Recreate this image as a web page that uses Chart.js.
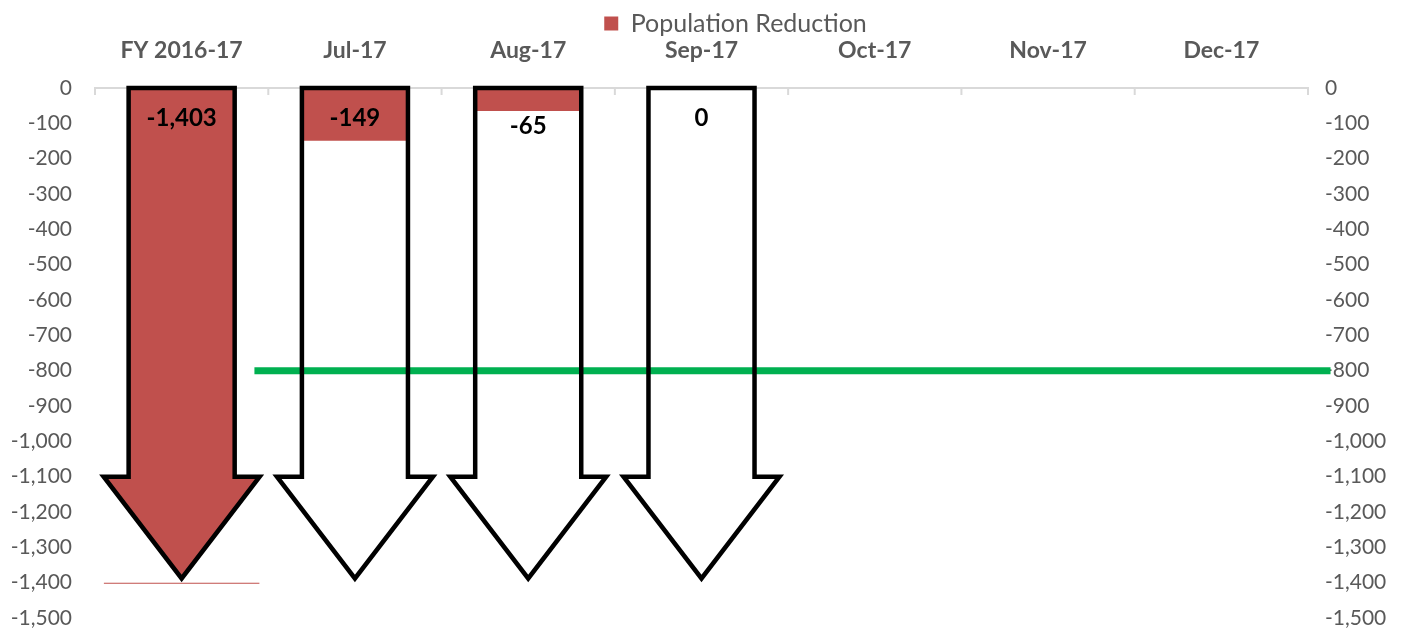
<!DOCTYPE html>
<html><head><meta charset="utf-8">
<script src="https://cdn.jsdelivr.net/npm/chart.js@4"></script>
<style>html,body{margin:0;padding:0;background:#fff}#wrap{width:1405px;height:628px;position:relative}</style>
</head><body><div id="wrap"><canvas id="c"></canvas></div>
<script>
// ---- data ----
const categories = ['FY 2016-17', 'Jul-17', 'Aug-17', 'Sep-17', 'Oct-17', 'Nov-17', 'Dec-17'];
const populationReduction = [-1403, -149, -65, 0, null, null, null];
const targetValue = -800;
const targetStart = 0.42;   // in category-index units
const targetEnd = 6.63;
const yMin = -1500, yMax = 0, yStep = 100;
const arrowHeadValue = -1100;
const arrowTipValue = -1388;

const RED = '#c0504d', GREEN = '#00b050', GREY = '#595959';
const FONT = 'Lato, "Open Sans", sans-serif';

function arrowPath(ctx, el, yScale) {
  const cx = el.x, hw = el.width / 2, sw = hw * 0.68;
  const yTop = yScale.getPixelForValue(0);
  const yHead = yScale.getPixelForValue(arrowHeadValue);
  const yTip = yScale.getPixelForValue(arrowTipValue);
  ctx.moveTo(cx - sw, yTop);
  ctx.lineTo(cx + sw, yTop);
  ctx.lineTo(cx + sw, yHead);
  ctx.lineTo(cx + hw, yHead);
  ctx.lineTo(cx, yTip);
  ctx.lineTo(cx - hw, yHead);
  ctx.lineTo(cx - sw, yHead);
  ctx.closePath();
}

const arrowPlugin = {
  id: 'arrows',
  afterLayout(chart) {
    const lg = chart.legend;
    if (lg) { lg.left += 33; lg.right += 33; lg.top += 11; lg.bottom += 11; }
  },
  beforeDatasetDraw(chart, args) {
    if (args.index !== 0) return;
    const ctx = chart.ctx, meta = chart.getDatasetMeta(0), ys = chart.scales.y;
    ctx.save();
    ctx.beginPath();
    meta.data.forEach((el, i) => {
      const v = populationReduction[i];
      if (v == null) return;
      arrowPath(ctx, el, ys);
      if (v < arrowTipValue) {
        const yb = ys.getPixelForValue(v);
        ctx.rect(el.x - el.width / 2, yb - 1, el.width, 1.2);
      }
    });
    ctx.clip();
  },
  afterDatasetDraw(chart, args) {
    if (args.index !== 0) return;
    chart.ctx.restore();
  },
  afterDatasetsDraw(chart) {
    const ctx = chart.ctx, meta = chart.getDatasetMeta(0), ys = chart.scales.y;
    ctx.save();
    ctx.strokeStyle = '#d9d9d9';
    ctx.lineWidth = 2;
    const n = categories.length, a = chart.chartArea;
    const y0 = ys.getPixelForValue(0);
    for (let i = 0; i <= n; i++) {
      const x = a.left + (a.right - a.left) * i / n;
      ctx.beginPath(); ctx.moveTo(x, y0); ctx.lineTo(x, y0 + 7); ctx.stroke();
    }
    ctx.restore();
    ctx.save();
    ctx.strokeStyle = '#000';
    ctx.lineWidth = 4.5;
    ctx.lineJoin = 'miter';
    meta.data.forEach((el, i) => {
      if (populationReduction[i] == null) return;
      ctx.beginPath();
      arrowPath(ctx, el, ys);
      ctx.stroke();
    });
    ctx.fillStyle = '#000';
    ctx.font = 'bold 24px ' + FONT;
    ctx.textAlign = 'center';
    ctx.textBaseline = 'middle';
    meta.data.forEach((el, i) => {
      const v = populationReduction[i];
      if (v == null) return;
      const yb = ys.getPixelForValue(v);
      const h = yb - y0;
      const y = (h > 0 && h < 28) ? yb + 15 : y0 + 30;
      ctx.fillText(v.toLocaleString('en-US'), el.x, y);
    });
    ctx.restore();
  }
};

new Chart(document.getElementById('c'), {
  type: 'bar',
  data: {
    labels: categories,
    datasets: [
      {
        label: 'Population Reduction',
        data: populationReduction,
        backgroundColor: RED,
        borderWidth: 0,
        grouped: false,
        categoryPercentage: 0.9,
        barPercentage: 1.0,
        order: 2
      },
      {
        type: 'line',
        label: 'Target',
        xAxisID: 'xt',
        data: [{ x: targetStart, y: targetValue }, { x: targetEnd, y: targetValue }],
        borderColor: GREEN,
        borderWidth: 7,
        pointRadius: 0,
        clip: false,
        order: 1
      }
    ]
  },
  options: {
    responsive: true,
    maintainAspectRatio: false,
    animation: false,
    devicePixelRatio: 1,
    layout: { padding: { left: 0, right: 0, top: 0, bottom: 0 } },
    plugins: {
      tooltip: { enabled: false },
      legend: {
        position: 'top',
        labels: {
          filter: (item) => item.datasetIndex === 0,
          boxWidth: 14, boxHeight: 14,
          color: GREY,
          font: { family: FONT, size: 25 },
          padding: 0
        }
      }
    },
    scales: {
      x: {
        position: 'top',
        grid: { display: false, drawTicks: false },
        border: { display: true, color: '#d9d9d9', width: 2 },
        ticks: { color: GREY, font: { family: FONT, size: 23, weight: 'bold' }, padding: 24 },
        afterFit(s) { s.height = 53; }
      },
      xt: {
        type: 'linear', display: false, offset: false, min: -0.5, max: 6.5
      },
      y: {
        position: 'left',
        min: yMin, max: yMax,
        grid: { display: false, drawTicks: false },
        border: { display: false },
        ticks: { stepSize: yStep, color: GREY, font: { family: FONT, size: 21 }, padding: 23 },
        afterFit(s) { s.width = 95; s.paddingBottom = 10; s.paddingTop = 10; }
      },
      y2: {
        position: 'right',
        min: yMin, max: yMax,
        grid: { display: false, drawTicks: false },
        border: { display: false },
        ticks: { stepSize: yStep, color: GREY, font: { family: FONT, size: 21 }, padding: 17 },
        afterFit(s) { s.width = 97; s.paddingBottom = 10; s.paddingTop = 10; }
      }
    }
  },
  plugins: [arrowPlugin]
});
</script>
</body></html>
